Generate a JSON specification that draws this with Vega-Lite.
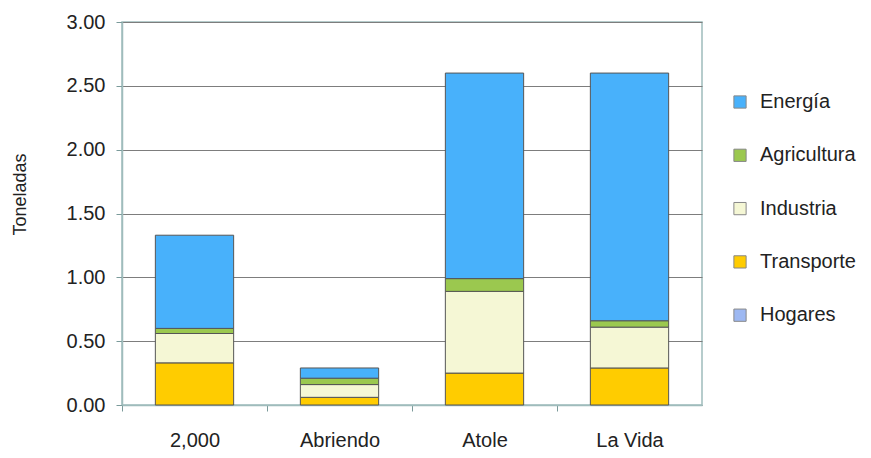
{
  "$schema": "https://vega.github.io/schema/vega-lite/v6.json",
  "autosize": "none",
  "width": 580,
  "height": 383,
  "padding": {"left": 122, "top": 22, "right": 169, "bottom": 53},
  "background": "white",
  "config": {
    "font": "Liberation Sans",
    "view": {"stroke": "#9fbcbc", "strokeWidth": 1.5}
  },
  "data": {
    "values": [
      {"categoria": "2,000", "sector": "Transporte", "orden": 1, "valor": 0.33},
      {"categoria": "2,000", "sector": "Industria", "orden": 2, "valor": 0.23},
      {"categoria": "2,000", "sector": "Agricultura", "orden": 3, "valor": 0.04},
      {"categoria": "2,000", "sector": "Energía", "orden": 4, "valor": 0.73},
      {"categoria": "Abriendo", "sector": "Transporte", "orden": 1, "valor": 0.06},
      {"categoria": "Abriendo", "sector": "Industria", "orden": 2, "valor": 0.10},
      {"categoria": "Abriendo", "sector": "Agricultura", "orden": 3, "valor": 0.05},
      {"categoria": "Abriendo", "sector": "Energía", "orden": 4, "valor": 0.08},
      {"categoria": "Atole", "sector": "Transporte", "orden": 1, "valor": 0.25},
      {"categoria": "Atole", "sector": "Industria", "orden": 2, "valor": 0.64},
      {"categoria": "Atole", "sector": "Agricultura", "orden": 3, "valor": 0.10},
      {"categoria": "Atole", "sector": "Energía", "orden": 4, "valor": 1.61},
      {"categoria": "La Vida", "sector": "Transporte", "orden": 1, "valor": 0.29},
      {"categoria": "La Vida", "sector": "Industria", "orden": 2, "valor": 0.32},
      {"categoria": "La Vida", "sector": "Agricultura", "orden": 3, "valor": 0.05},
      {"categoria": "La Vida", "sector": "Energía", "orden": 4, "valor": 1.94}
    ]
  },
  "mark": {"type": "bar", "stroke": "#555555", "strokeWidth": 1},
  "encoding": {
    "x": {
      "field": "categoria",
      "type": "nominal",
      "sort": ["2,000", "Abriendo", "Atole", "La Vida"],
      "scale": {"paddingInner": 0.46, "paddingOuter": 0.23},
      "axis": {
        "title": null,
        "labelAngle": 0,
        "labelFontSize": 20,
        "labelColor": "#222222",
        "labelPadding": 19,
        "tickOffset": -72.5,
        "labelOffset": 72.5,
        "tickSize": 6,
        "tickColor": "#7a9a9a",
        "domainColor": "#9fbcbc",
        "domainWidth": 1.5,
        "grid": false
      }
    },
    "y": {
      "field": "valor",
      "type": "quantitative",
      "stack": "zero",
      "scale": {"domain": [0, 3]},
      "axis": {
        "title": "Toneladas",
        "titleFont": "Liberation Sans",
        "titleFontSize": 18,
        "titleFontWeight": "normal",
        "titleColor": "#222222",
        "titleX": -102,
        "titleY": 172,
        "titleAlign": "center",
        "titleBaseline": "middle",
        "titleAngle": -90,
        "values": [0, 0.5, 1, 1.5, 2, 2.5, 3],
        "format": ".2f",
        "labelFontSize": 20,
        "labelColor": "#222222",
        "labelPadding": 11,
        "tickSize": 6,
        "tickColor": "#7a9a9a",
        "domainColor": "#9fbcbc",
        "domainWidth": 1.5,
        "grid": true,
        "gridColor": "#7d7d7d",
        "gridWidth": 1.2
      }
    },
    "color": {
      "field": "sector",
      "type": "nominal",
      "scale": {
        "domain": ["Energía", "Agricultura", "Industria", "Transporte", "Hogares"],
        "range": ["#48b1fb", "#9bc84f", "#f5f7d5", "#ffcc00", "#9db8f2"]
      },
      "legend": {
        "title": null,
        "orient": "none",
        "legendX": 608,
        "legendY": 70,
        "symbolType": "square",
        "symbolSize": 150,
        "symbolStrokeColor": "#888888",
        "symbolStrokeWidth": 1,
        "labelFontSize": 20,
        "labelColor": "#222222",
        "labelOffset": 10,
        "rowPadding": 33.3
      }
    },
    "order": {"field": "orden", "type": "quantitative", "sort": "ascending"}
  }
}
